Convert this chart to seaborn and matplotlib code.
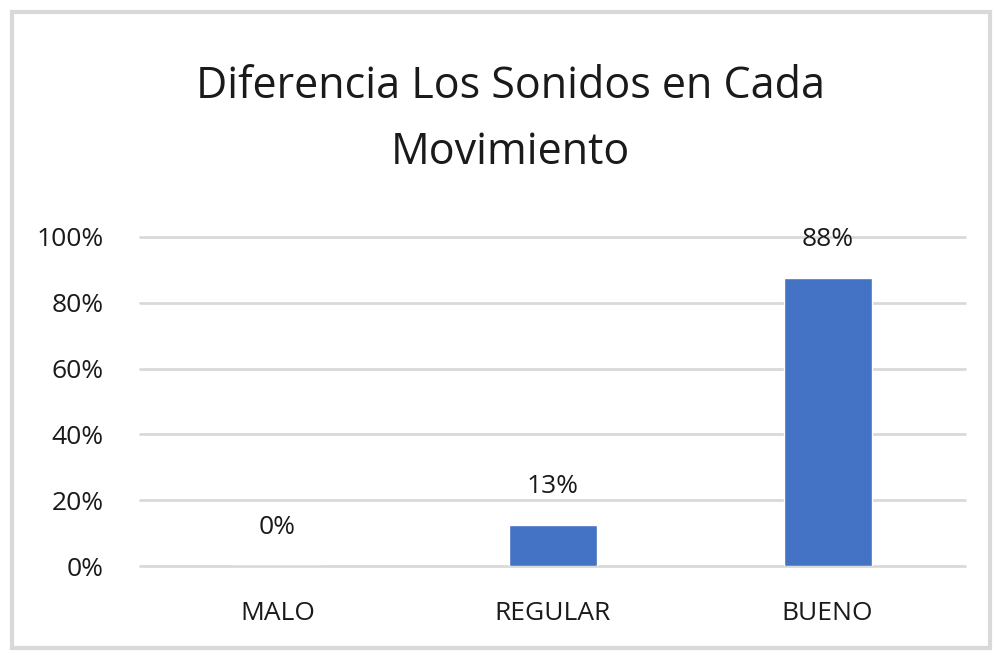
import matplotlib
matplotlib.use('Agg')
import matplotlib.pyplot as plt
import seaborn as sns
import pandas as pd
from matplotlib.patches import Rectangle
from matplotlib.ticker import PercentFormatter

categorias = ['MALO', 'REGULAR', 'BUENO']
porcentajes = [0.0, 12.5, 87.5]
etiquetas = ['0%', '13%', '88%']

sns.set_style('white')
plt.rcParams['font.family'] = ['Liberation Sans Narrow', 'Open Sans', 'DejaVu Sans']

df = pd.DataFrame({'categoria': categorias, 'valor': porcentajes})

fig = plt.figure(figsize=(9.94, 6.55), dpi=100)
ax = fig.add_axes([140/994, 1 - 566/655, (965-140)/994, (566-237)/655])

sns.barplot(data=df, x='categoria', y='valor', color='#4472C4', width=0.32,
            saturation=1, ax=ax, zorder=3)

ax.set_ylim(0, 100)
ax.set_xlim(-0.5, 2.5)
ax.set_yticks(range(0, 101, 20))
ax.yaxis.set_major_formatter(PercentFormatter(decimals=0))
ax.grid(axis='y', color='#d9d9d9', linewidth=2, zorder=0)
for l in ax.get_ygridlines():
    l.set_clip_on(False)
ax.set_xlabel('')
ax.set_ylabel('')
for s in ax.spines.values():
    s.set_visible(False)
ax.tick_params(axis='both', length=0, labelsize=19, colors='#1a1a1a')
ax.tick_params(axis='y', pad=26)
ax.tick_params(axis='x', pad=25)

# etiquetas de datos sobre cada barra
for i, (v, t) in enumerate(zip(porcentajes, etiquetas)):
    ax.text(i, v + 11.8, t, ha='center', va='center', fontsize=19, color='#1a1a1a')

fig.text(510/994, 1 - 120/655, 'Diferencia Los Sonidos en Cada\nMovimiento',
         ha='center', va='center', fontsize=31, color='#1a1a1a', linespacing=1.65)

fig.patches.append(Rectangle((12/994, 7/655), 978/994, 636/655, transform=fig.transFigure,
                             fill=False, edgecolor='#d9d9d9', linewidth=3))

fig.savefig('out.png', dpi=100)
